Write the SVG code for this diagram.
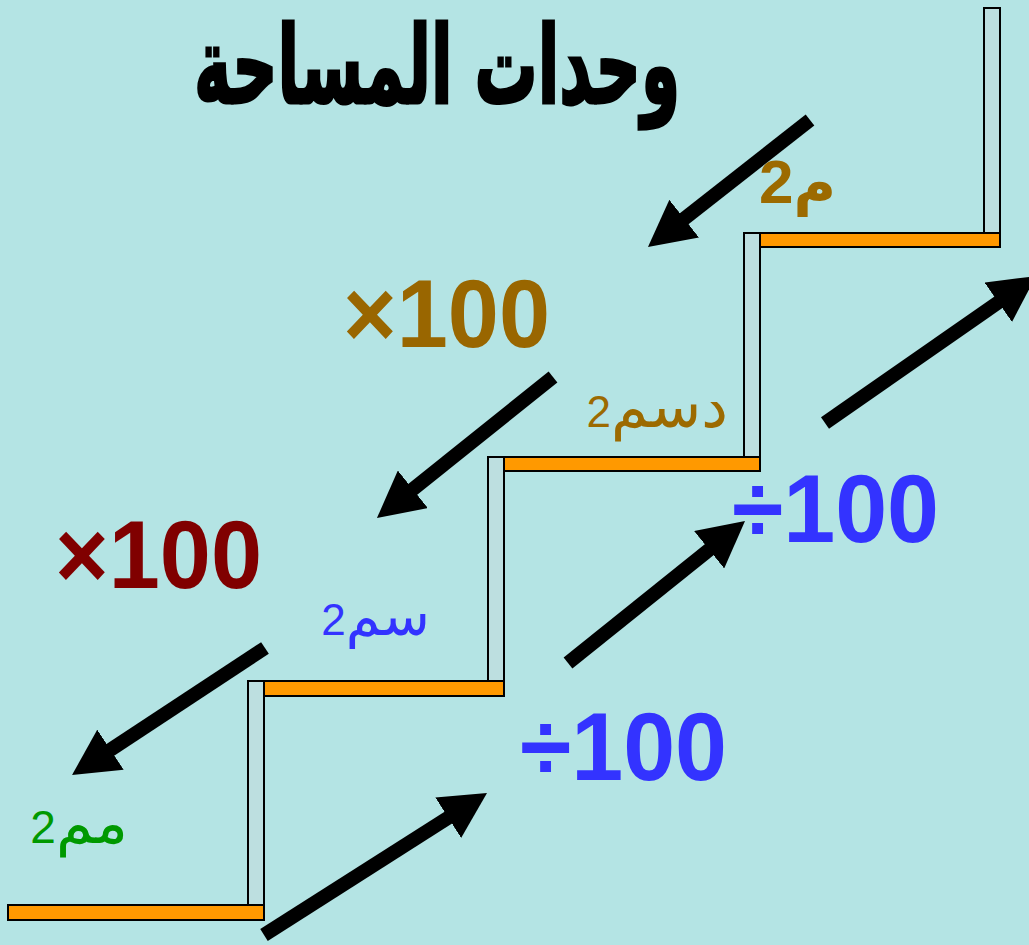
<svg xmlns="http://www.w3.org/2000/svg" width="1029" height="945" viewBox="0 0 1029 945">
<style>
.riser{fill:#bddfe0;stroke:#000;stroke-width:2}
.tread{fill:#ff9900;stroke:#000;stroke-width:2}
.arr{stroke:#000;stroke-width:14;fill:none;marker-end:url(#head)}
.num{font-family:"Liberation Sans",Arial,sans-serif;font-weight:bold;font-size:97px}
.ar{font-family:"DejaVu Sans",sans-serif;text-anchor:end}
.dg{font-family:"Liberation Sans",Arial,sans-serif}
</style>
<defs>
<marker id="head" markerUnits="userSpaceOnUse" viewBox="0 0 46 48" refX="2" refY="24" markerWidth="46" markerHeight="48" orient="auto">
<path d="M0,0 L46,24 L0,48 Z" fill="#000"/>
</marker>
</defs>
<rect width="1029" height="945" fill="#b4e4e4"/>
<g id="title">
<text x="437" y="103" font-family="DejaVu Sans,sans-serif" font-weight="bold" font-size="108" text-anchor="middle" fill="#000" stroke="#000" stroke-width="3" textLength="486" lengthAdjust="spacingAndGlyphs">وحدات المساحة</text>
</g>
<g id="stairs">
<rect class="riser" x="984" y="8" width="16" height="226"/>
<rect class="riser" x="744" y="233" width="16" height="225"/>
<rect class="riser" x="488" y="457" width="16" height="225"/>
<rect class="riser" x="248" y="681" width="16" height="225"/>
<rect class="tread" x="760" y="233" width="240" height="14"/>
<rect class="tread" x="504" y="457" width="256" height="14"/>
<rect class="tread" x="264" y="681" width="240" height="15"/>
<rect class="tread" x="8" y="905" width="256" height="15"/>
</g>
<g id="connectors">
<path class="arr" d="M810,120 L682.6,219.9"/>
<path class="arr" d="M553,377 L411.3,490.5"/>
<path class="arr" d="M265,648 L108.8,750.8"/>
<path class="arr" d="M264,935 L449.9,816.6"/>
<path class="arr" d="M568,663 L710.7,548.5"/>
<path class="arr" d="M825,423 L999.9,301.2"/>
</g>
<g id="label-m2"><text class="ar" x="836" y="203" font-weight="bold" fill="#9c6a00"><tspan font-size="58">م</tspan><tspan class="dg" font-size="62">2</tspan></text></g>
<g id="label-dm2"><text class="ar" x="728" y="427" fill="#9c6a00"><tspan font-size="60">دسم</tspan><tspan class="dg" font-size="44">2</tspan></text></g>
<g id="label-cm2"><text class="ar" x="430" y="635" fill="#3333ff"><tspan font-size="56">سم</tspan><tspan class="dg" font-size="44">2</tspan></text></g>
<g id="label-mm2"><text class="ar" x="128" y="843" fill="#009900"><tspan font-size="60">مم</tspan><tspan class="dg" font-size="46">2</tspan></text></g>
<g id="mul1"><text class="num" x="343" y="347" fill="#996600" textLength="207" lengthAdjust="spacingAndGlyphs">×100</text></g>
<g id="mul2"><text class="num" x="55" y="588" fill="#800000" textLength="207" lengthAdjust="spacingAndGlyphs">×100</text></g>
<g id="div1"><text class="num" x="732" y="542" fill="#3333ff" textLength="207" lengthAdjust="spacingAndGlyphs">÷100</text></g>
<g id="div2"><text class="num" x="520" y="780" fill="#3333ff" textLength="207" lengthAdjust="spacingAndGlyphs">÷100</text></g>
</svg>
